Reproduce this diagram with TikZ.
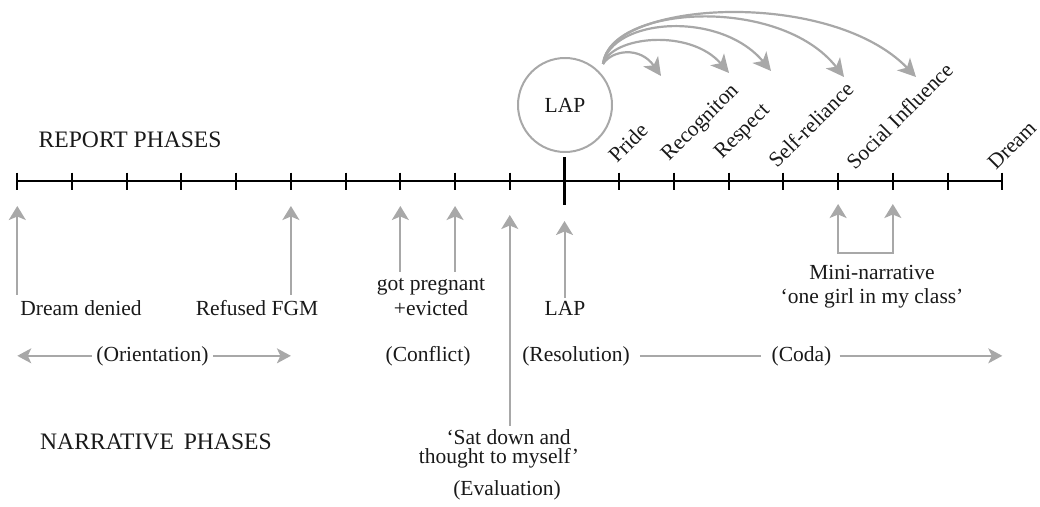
\documentclass[tikz,border=0pt]{standalone}
\usepackage{fontspec}
\setmainfont{Liberation Serif}
\usetikzlibrary{arrows.meta,calc}
\definecolor{arrowgrey}{RGB}{168,168,168}
\definecolor{inkgrey}{RGB}{25,25,25}
\begin{document}
\begin{tikzpicture}[x=1pt,y=-1pt,
  lbl/.style={inner sep=0pt, text=inkgrey, font=\fontsize{21.5}{25}\selectfont},
  ttl/.style={inner sep=0pt, text=inkgrey, font=\fontsize{23.6}{28}\selectfont, anchor=base west},
  phase/.style={lbl, inner xsep=4pt, anchor=base},
  slant/.style={lbl, rotate=45, anchor=base west},
  uparrow/.style={draw=arrowgrey, line width=2pt, -{Stealth[length=14pt,width=17pt,inset=3.5pt]}},
  fanarrow/.style={draw=arrowgrey, line width=2.2pt, -{Stealth[length=18pt,width=18pt,inset=5pt]}},
  spanline/.style={draw=arrowgrey, line width=1.4pt},
  spanarrow/.style={spanline, -{Stealth[length=14pt,width=15pt,inset=3.5pt]}},
  tickmark/.style={draw=black, line width=2pt},
]
\useasboundingbox (0,0) rectangle (1040,506);

% tick positions on the report time line
\foreach \i in {0,...,18} \coordinate (t\i) at ({17.3+54.72*\i},181);

% time line with ticks
\draw[line width=2.2pt] (t0) -- (t18);
\foreach \i in {0,...,18} \draw[tickmark] ($(t\i)+(0,-8.5)$) -- ($(t\i)+(0,8.5)$);
\draw[tickmark, line width=2.4pt] ($(t10)+(0,-24)$) -- ($(t10)+(0,24)$);

% titles
\node[ttl] (report) at (38.5,147.3) {REPORT PHASES};
\node[ttl] (narr) at (40,449) {NARRATIVE\hspace{4pt} PHASES};

% LAP circle and its outcomes
\node[circle, draw=arrowgrey, line width=2pt, minimum size=94pt, inner sep=0pt, lbl] (lap) at (565,105) {LAP};
\coordinate (fan) at (603,64);
\coordinate (ePride) at (661,76);
\coordinate (eRecog) at (729,73);
\coordinate (eRespect) at (771,71);
\coordinate (eSelf) at (844,77);
\coordinate (eSocial) at (916,77);
\draw[fanarrow] (fan) .. controls (612,50) and (640,46) .. (ePride);
\draw[fanarrow] (fan) .. controls (612,36) and (690,28) .. (eRecog);
\draw[fanarrow] (fan) .. controls (612,18) and (720,10) .. (eRespect);
\draw[fanarrow] (fan) .. controls (610,5) and (780,-5) .. (eSelf);
\draw[fanarrow] (fan) .. controls (610,0) and (830,-12) .. (eSocial);

% slanted labels above the time line
\node[slant] (pride) at (617,164) {Pride};
\node[slant] (recog) at (669,162) {Recogniton};
\node[slant] (respect) at (722,160) {Respect};
\node[slant] (self) at (777,169) {Self-reliance};
\node[slant] (social) at (855,171) {Social Influence};
\node[slant] (dream) at (996,171) {Dream};

% report phase events below the time line
\node[lbl, anchor=base] (denied) at (81,315) {Dream denied};
\node[lbl, anchor=base] (fgm) at (257,315) {Refused FGM};
\node[lbl, anchor=base] (preg) at (431,290) {got pregnant};
\node[lbl, anchor=base] (evict) at (431,315) {+evicted};
\node[lbl, anchor=base] (laplbl) at (565,315) {LAP};
\node[lbl, anchor=base] (mini) at (872,279) {Mini-narrative};
\node[lbl, anchor=base] (girl) at (872,303) {‘one girl in my class’};
\node[lbl, anchor=base] (sat) at (508.6,444) {‘Sat down and};
\node[lbl, anchor=base] (thought) at (499,463) {thought to myself’};
\node[lbl, anchor=base] (eval) at (507,495) {(Evaluation)};

\draw[uparrow] ($(t0 |- denied.north)+(0,-5)$) -- ($(t0)+(0,25)$);
\draw[uparrow] ($(t5 |- fgm.north)+(0,-5)$) -- ($(t5)+(0,25)$);
\draw[uparrow] ($(t7 |- preg.north)+(0,-6)$) -- ($(t7)+(0,25)$);
\draw[uparrow] ($(t8 |- preg.north)+(0,-6)$) -- ($(t8)+(0,25)$);
\draw[uparrow] ($(t9 |- sat.north)+(0,-3)$) -- ($(t9)+(0,34)$);
\draw[uparrow] ($(t10 |- laplbl.north)+(0,-3)$) -- ($(t10)+(0,40)$);
\draw[draw=arrowgrey, line width=2pt, {Stealth[length=14pt,width=17pt,inset=3.5pt]}-{Stealth[length=14pt,width=17pt,inset=3.5pt]}]
  ($(t15)+(0,23)$) -- ($(t15)+(0,72)$) -- ($(t16)+(0,72)$) -- ($(t16)+(0,23)$);

% narrative phases
\node[phase] (orient) at (152.5,361) {(Orientation)};
\node[phase] (conflict) at (428,361) {(Conflict)};
\node[phase] (resol) at (576,361) {(Resolution)};
\node[phase] (coda) at (801.5,361) {(Coda)};
\draw[spanarrow] (orient.west) -- (orient.west -| t0);
\draw[spanarrow] (orient.east) -- (orient.east -| t5);
\draw[spanline, shorten <=6pt, shorten >=6pt] (resol.east) -- (coda.west);
\draw[spanarrow, shorten <=4pt] (coda.east) -- (coda.east -| t18);
\end{tikzpicture}
\end{document}
